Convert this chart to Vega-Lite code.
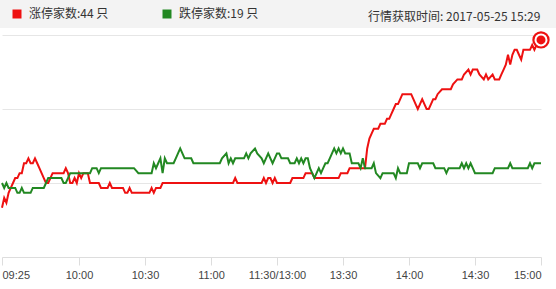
{
  "$schema": "https://vega.github.io/schema/vega-lite/v6.json",
  "width": 539,
  "height": 222,
  "autosize": {"type": "none"},
  "padding": {"left": 2, "top": 35, "right": 15, "bottom": 32},
  "background": "white",
  "config": {"view": {"stroke": null}, "font": "Liberation Sans"},
  "title": {
    "text": "行情获取时间: 2017-05-25 15:29",
    "anchor": "start",
    "frame": "group",
    "dx": 366,
    "offset": 0,
    "dy": 30,
    "baseline": "middle",
    "font": "Noto Sans CJK SC",
    "fontSize": 12,
    "fontWeight": "normal",
    "color": "#333333"
  },
  "datasets": {
    "series": [
      {"t": 0, "n": 10, "s": "涨停家数:44 只"},
      {"t": 1, "n": 12, "s": "涨停家数:44 只"},
      {"t": 2, "n": 11, "s": "涨停家数:44 只"},
      {"t": 3, "n": 13, "s": "涨停家数:44 只"},
      {"t": 4, "n": 14, "s": "涨停家数:44 只"},
      {"t": 5, "n": 15, "s": "涨停家数:44 只"},
      {"t": 6, "n": 16, "s": "涨停家数:44 只"},
      {"t": 7, "n": 16, "s": "涨停家数:44 只"},
      {"t": 8, "n": 17, "s": "涨停家数:44 只"},
      {"t": 9, "n": 17, "s": "涨停家数:44 只"},
      {"t": 10, "n": 19, "s": "涨停家数:44 只"},
      {"t": 11, "n": 19, "s": "涨停家数:44 只"},
      {"t": 12, "n": 20, "s": "涨停家数:44 只"},
      {"t": 13, "n": 19, "s": "涨停家数:44 只"},
      {"t": 14, "n": 19, "s": "涨停家数:44 只"},
      {"t": 15, "n": 20, "s": "涨停家数:44 只"},
      {"t": 16, "n": 19, "s": "涨停家数:44 只"},
      {"t": 17, "n": 18, "s": "涨停家数:44 只"},
      {"t": 18, "n": 17, "s": "涨停家数:44 只"},
      {"t": 19, "n": 16, "s": "涨停家数:44 只"},
      {"t": 20, "n": 15, "s": "涨停家数:44 只"},
      {"t": 21, "n": 15, "s": "涨停家数:44 只"},
      {"t": 22, "n": 16, "s": "涨停家数:44 只"},
      {"t": 23, "n": 17, "s": "涨停家数:44 只"},
      {"t": 28, "n": 17, "s": "涨停家数:44 只"},
      {"t": 29, "n": 18, "s": "涨停家数:44 只"},
      {"t": 30, "n": 17, "s": "涨停家数:44 只"},
      {"t": 31, "n": 15, "s": "涨停家数:44 只"},
      {"t": 32, "n": 15, "s": "涨停家数:44 只"},
      {"t": 33, "n": 16, "s": "涨停家数:44 只"},
      {"t": 34, "n": 15, "s": "涨停家数:44 只"},
      {"t": 35, "n": 17, "s": "涨停家数:44 只"},
      {"t": 36, "n": 16, "s": "涨停家数:44 只"},
      {"t": 37, "n": 17, "s": "涨停家数:44 只"},
      {"t": 39, "n": 17, "s": "涨停家数:44 只"},
      {"t": 40, "n": 15, "s": "涨停家数:44 只"},
      {"t": 44, "n": 15, "s": "涨停家数:44 只"},
      {"t": 45, "n": 14, "s": "涨停家数:44 只"},
      {"t": 48, "n": 14, "s": "涨停家数:44 只"},
      {"t": 49, "n": 15, "s": "涨停家数:44 只"},
      {"t": 50, "n": 14, "s": "涨停家数:44 只"},
      {"t": 55, "n": 14, "s": "涨停家数:44 只"},
      {"t": 56, "n": 13, "s": "涨停家数:44 只"},
      {"t": 57, "n": 13, "s": "涨停家数:44 只"},
      {"t": 58, "n": 14, "s": "涨停家数:44 只"},
      {"t": 59, "n": 13, "s": "涨停家数:44 只"},
      {"t": 67, "n": 13, "s": "涨停家数:44 只"},
      {"t": 68, "n": 14, "s": "涨停家数:44 只"},
      {"t": 69, "n": 13, "s": "涨停家数:44 只"},
      {"t": 70, "n": 14, "s": "涨停家数:44 只"},
      {"t": 72, "n": 14, "s": "涨停家数:44 只"},
      {"t": 73, "n": 15, "s": "涨停家数:44 只"},
      {"t": 105, "n": 15, "s": "涨停家数:44 只"},
      {"t": 106, "n": 16, "s": "涨停家数:44 只"},
      {"t": 107, "n": 15, "s": "涨停家数:44 只"},
      {"t": 118, "n": 15, "s": "涨停家数:44 只"},
      {"t": 119, "n": 16, "s": "涨停家数:44 只"},
      {"t": 120, "n": 15, "s": "涨停家数:44 只"},
      {"t": 121, "n": 16, "s": "涨停家数:44 只"},
      {"t": 122, "n": 16, "s": "涨停家数:44 只"},
      {"t": 123, "n": 15, "s": "涨停家数:44 只"},
      {"t": 124, "n": 16, "s": "涨停家数:44 只"},
      {"t": 125, "n": 15, "s": "涨停家数:44 只"},
      {"t": 131, "n": 15, "s": "涨停家数:44 只"},
      {"t": 132, "n": 16, "s": "涨停家数:44 只"},
      {"t": 137, "n": 16, "s": "涨停家数:44 只"},
      {"t": 138, "n": 17, "s": "涨停家数:44 只"},
      {"t": 141, "n": 17, "s": "涨停家数:44 只"},
      {"t": 142, "n": 16, "s": "涨停家数:44 只"},
      {"t": 153, "n": 16, "s": "涨停家数:44 只"},
      {"t": 154, "n": 17, "s": "涨停家数:44 只"},
      {"t": 157, "n": 17, "s": "涨停家数:44 只"},
      {"t": 158, "n": 18, "s": "涨停家数:44 只"},
      {"t": 165, "n": 18, "s": "涨停家数:44 只"},
      {"t": 166, "n": 22, "s": "涨停家数:44 只"},
      {"t": 167, "n": 24, "s": "涨停家数:44 只"},
      {"t": 168, "n": 25, "s": "涨停家数:44 只"},
      {"t": 169, "n": 26, "s": "涨停家数:44 只"},
      {"t": 171, "n": 26, "s": "涨停家数:44 只"},
      {"t": 172, "n": 27, "s": "涨停家数:44 只"},
      {"t": 174, "n": 27, "s": "涨停家数:44 只"},
      {"t": 175, "n": 28, "s": "涨停家数:44 只"},
      {"t": 176, "n": 28, "s": "涨停家数:44 只"},
      {"t": 177, "n": 29, "s": "涨停家数:44 只"},
      {"t": 178, "n": 30, "s": "涨停家数:44 只"},
      {"t": 179, "n": 31, "s": "涨停家数:44 只"},
      {"t": 180, "n": 31, "s": "涨停家数:44 只"},
      {"t": 181, "n": 32, "s": "涨停家数:44 只"},
      {"t": 182, "n": 33, "s": "涨停家数:44 只"},
      {"t": 186, "n": 33, "s": "涨停家数:44 只"},
      {"t": 187, "n": 32, "s": "涨停家数:44 只"},
      {"t": 188, "n": 31, "s": "涨停家数:44 只"},
      {"t": 189, "n": 30, "s": "涨停家数:44 只"},
      {"t": 190, "n": 31, "s": "涨停家数:44 只"},
      {"t": 191, "n": 32, "s": "涨停家数:44 只"},
      {"t": 192, "n": 31, "s": "涨停家数:44 只"},
      {"t": 193, "n": 30, "s": "涨停家数:44 只"},
      {"t": 194, "n": 30, "s": "涨停家数:44 只"},
      {"t": 195, "n": 31, "s": "涨停家数:44 只"},
      {"t": 196, "n": 32, "s": "涨停家数:44 只"},
      {"t": 197, "n": 32, "s": "涨停家数:44 只"},
      {"t": 198, "n": 33, "s": "涨停家数:44 只"},
      {"t": 200, "n": 34, "s": "涨停家数:44 只"},
      {"t": 204, "n": 34, "s": "涨停家数:44 只"},
      {"t": 205, "n": 35, "s": "涨停家数:44 只"},
      {"t": 207, "n": 36, "s": "涨停家数:44 只"},
      {"t": 209, "n": 36, "s": "涨停家数:44 只"},
      {"t": 210, "n": 37, "s": "涨停家数:44 只"},
      {"t": 212, "n": 38, "s": "涨停家数:44 只"},
      {"t": 213, "n": 37, "s": "涨停家数:44 只"},
      {"t": 214, "n": 38, "s": "涨停家数:44 只"},
      {"t": 216, "n": 38, "s": "涨停家数:44 只"},
      {"t": 217, "n": 37, "s": "涨停家数:44 只"},
      {"t": 219, "n": 36, "s": "涨停家数:44 只"},
      {"t": 220, "n": 37, "s": "涨停家数:44 只"},
      {"t": 221, "n": 36, "s": "涨停家数:44 只"},
      {"t": 223, "n": 37, "s": "涨停家数:44 只"},
      {"t": 224, "n": 36, "s": "涨停家数:44 只"},
      {"t": 226, "n": 36, "s": "涨停家数:44 只"},
      {"t": 227, "n": 37, "s": "涨停家数:44 只"},
      {"t": 228, "n": 38, "s": "涨停家数:44 只"},
      {"t": 229, "n": 39, "s": "涨停家数:44 只"},
      {"t": 230, "n": 41, "s": "涨停家数:44 只"},
      {"t": 231, "n": 39, "s": "涨停家数:44 只"},
      {"t": 232, "n": 41, "s": "涨停家数:44 只"},
      {"t": 233, "n": 42, "s": "涨停家数:44 只"},
      {"t": 234, "n": 42, "s": "涨停家数:44 只"},
      {"t": 235, "n": 41, "s": "涨停家数:44 只"},
      {"t": 236, "n": 40, "s": "涨停家数:44 只"},
      {"t": 237, "n": 42, "s": "涨停家数:44 只"},
      {"t": 240, "n": 42, "s": "涨停家数:44 只"},
      {"t": 241, "n": 43, "s": "涨停家数:44 只"},
      {"t": 242, "n": 42, "s": "涨停家数:44 只"},
      {"t": 243, "n": 43, "s": "涨停家数:44 只"},
      {"t": 244, "n": 43, "s": "涨停家数:44 只"},
      {"t": 245, "n": 44, "s": "涨停家数:44 只"},
      {"t": 0, "n": 15, "s": "跌停家数:19 只"},
      {"t": 1, "n": 14, "s": "跌停家数:19 只"},
      {"t": 2, "n": 15, "s": "跌停家数:19 只"},
      {"t": 3, "n": 14, "s": "跌停家数:19 只"},
      {"t": 6, "n": 14, "s": "跌停家数:19 只"},
      {"t": 7, "n": 13, "s": "跌停家数:19 只"},
      {"t": 8, "n": 13, "s": "跌停家数:19 只"},
      {"t": 9, "n": 14, "s": "跌停家数:19 只"},
      {"t": 10, "n": 13, "s": "跌停家数:19 只"},
      {"t": 13, "n": 13, "s": "跌停家数:19 只"},
      {"t": 14, "n": 14, "s": "跌停家数:19 只"},
      {"t": 19, "n": 14, "s": "跌停家数:19 只"},
      {"t": 20, "n": 15, "s": "跌停家数:19 只"},
      {"t": 21, "n": 16, "s": "跌停家数:19 只"},
      {"t": 27, "n": 16, "s": "跌停家数:19 只"},
      {"t": 28, "n": 15, "s": "跌停家数:19 只"},
      {"t": 29, "n": 15, "s": "跌停家数:19 只"},
      {"t": 30, "n": 16, "s": "跌停家数:19 只"},
      {"t": 31, "n": 17, "s": "跌停家数:19 只"},
      {"t": 40, "n": 17, "s": "跌停家数:19 只"},
      {"t": 41, "n": 18, "s": "跌停家数:19 只"},
      {"t": 43, "n": 18, "s": "跌停家数:19 只"},
      {"t": 44, "n": 17, "s": "跌停家数:19 只"},
      {"t": 45, "n": 18, "s": "跌停家数:19 只"},
      {"t": 60, "n": 18, "s": "跌停家数:19 只"},
      {"t": 62, "n": 17, "s": "跌停家数:19 只"},
      {"t": 68, "n": 17, "s": "跌停家数:19 只"},
      {"t": 69, "n": 19, "s": "跌停家数:19 只"},
      {"t": 70, "n": 18, "s": "跌停家数:19 只"},
      {"t": 71, "n": 19, "s": "跌停家数:19 只"},
      {"t": 72, "n": 20, "s": "跌停家数:19 只"},
      {"t": 73, "n": 17, "s": "跌停家数:19 只"},
      {"t": 74, "n": 20, "s": "跌停家数:19 只"},
      {"t": 75, "n": 19, "s": "跌停家数:19 只"},
      {"t": 78, "n": 19, "s": "跌停家数:19 只"},
      {"t": 79, "n": 20, "s": "跌停家数:19 只"},
      {"t": 80, "n": 21, "s": "跌停家数:19 只"},
      {"t": 81, "n": 22, "s": "跌停家数:19 只"},
      {"t": 82, "n": 21, "s": "跌停家数:19 只"},
      {"t": 83, "n": 20, "s": "跌停家数:19 只"},
      {"t": 86, "n": 20, "s": "跌停家数:19 只"},
      {"t": 87, "n": 19, "s": "跌停家数:19 只"},
      {"t": 99, "n": 19, "s": "跌停家数:19 只"},
      {"t": 100, "n": 20, "s": "跌停家数:19 只"},
      {"t": 102, "n": 21, "s": "跌停家数:19 只"},
      {"t": 103, "n": 19, "s": "跌停家数:19 只"},
      {"t": 104, "n": 20, "s": "跌停家数:19 只"},
      {"t": 105, "n": 19, "s": "跌停家数:19 只"},
      {"t": 106, "n": 20, "s": "跌停家数:19 只"},
      {"t": 110, "n": 20, "s": "跌停家数:19 只"},
      {"t": 111, "n": 21, "s": "跌停家数:19 只"},
      {"t": 112, "n": 20, "s": "跌停家数:19 只"},
      {"t": 113, "n": 21, "s": "跌停家数:19 只"},
      {"t": 115, "n": 22, "s": "跌停家数:19 只"},
      {"t": 116, "n": 21, "s": "跌停家数:19 只"},
      {"t": 118, "n": 20, "s": "跌停家数:19 只"},
      {"t": 119, "n": 19, "s": "跌停家数:19 只"},
      {"t": 120, "n": 20, "s": "跌停家数:19 只"},
      {"t": 121, "n": 21, "s": "跌停家数:19 只"},
      {"t": 122, "n": 20, "s": "跌停家数:19 只"},
      {"t": 123, "n": 19, "s": "跌停家数:19 只"},
      {"t": 124, "n": 20, "s": "跌停家数:19 只"},
      {"t": 125, "n": 21, "s": "跌停家数:19 只"},
      {"t": 126, "n": 21, "s": "跌停家数:19 只"},
      {"t": 127, "n": 20, "s": "跌停家数:19 只"},
      {"t": 130, "n": 20, "s": "跌停家数:19 只"},
      {"t": 131, "n": 19, "s": "跌停家数:19 只"},
      {"t": 133, "n": 19, "s": "跌停家数:19 只"},
      {"t": 134, "n": 20, "s": "跌停家数:19 只"},
      {"t": 135, "n": 19, "s": "跌停家数:19 只"},
      {"t": 136, "n": 20, "s": "跌停家数:19 只"},
      {"t": 137, "n": 19, "s": "跌停家数:19 只"},
      {"t": 138, "n": 20, "s": "跌停家数:19 只"},
      {"t": 139, "n": 20, "s": "跌停家数:19 只"},
      {"t": 140, "n": 18, "s": "跌停家数:19 只"},
      {"t": 141, "n": 17, "s": "跌停家数:19 只"},
      {"t": 142, "n": 16, "s": "跌停家数:19 只"},
      {"t": 143, "n": 17, "s": "跌停家数:19 只"},
      {"t": 144, "n": 18, "s": "跌停家数:19 只"},
      {"t": 145, "n": 17, "s": "跌停家数:19 只"},
      {"t": 146, "n": 18, "s": "跌停家数:19 只"},
      {"t": 147, "n": 19, "s": "跌停家数:19 只"},
      {"t": 148, "n": 19, "s": "跌停家数:19 只"},
      {"t": 149, "n": 20, "s": "跌停家数:19 只"},
      {"t": 150, "n": 21, "s": "跌停家数:19 只"},
      {"t": 151, "n": 22, "s": "跌停家数:19 只"},
      {"t": 152, "n": 21, "s": "跌停家数:19 只"},
      {"t": 153, "n": 22, "s": "跌停家数:19 只"},
      {"t": 154, "n": 21, "s": "跌停家数:19 只"},
      {"t": 155, "n": 22, "s": "跌停家数:19 只"},
      {"t": 156, "n": 21, "s": "跌停家数:19 只"},
      {"t": 158, "n": 21, "s": "跌停家数:19 只"},
      {"t": 159, "n": 19, "s": "跌停家数:19 只"},
      {"t": 162, "n": 19, "s": "跌停家数:19 只"},
      {"t": 163, "n": 18, "s": "跌停家数:19 只"},
      {"t": 164, "n": 20, "s": "跌停家数:19 只"},
      {"t": 165, "n": 18, "s": "跌停家数:19 只"},
      {"t": 168, "n": 18, "s": "跌停家数:19 只"},
      {"t": 169, "n": 19, "s": "跌停家数:19 只"},
      {"t": 170, "n": 17, "s": "跌停家数:19 只"},
      {"t": 172, "n": 16, "s": "跌停家数:19 只"},
      {"t": 173, "n": 17, "s": "跌停家数:19 只"},
      {"t": 178, "n": 17, "s": "跌停家数:19 只"},
      {"t": 179, "n": 16, "s": "跌停家数:19 只"},
      {"t": 180, "n": 18, "s": "跌停家数:19 只"},
      {"t": 181, "n": 17, "s": "跌停家数:19 只"},
      {"t": 184, "n": 17, "s": "跌停家数:19 只"},
      {"t": 185, "n": 19, "s": "跌停家数:19 只"},
      {"t": 189, "n": 19, "s": "跌停家数:19 只"},
      {"t": 190, "n": 18, "s": "跌停家数:19 只"},
      {"t": 191, "n": 19, "s": "跌停家数:19 只"},
      {"t": 196, "n": 19, "s": "跌停家数:19 只"},
      {"t": 197, "n": 18, "s": "跌停家数:19 只"},
      {"t": 201, "n": 18, "s": "跌停家数:19 只"},
      {"t": 202, "n": 17, "s": "跌停家数:19 只"},
      {"t": 203, "n": 18, "s": "跌停家数:19 只"},
      {"t": 208, "n": 18, "s": "跌停家数:19 只"},
      {"t": 209, "n": 19, "s": "跌停家数:19 只"},
      {"t": 210, "n": 18, "s": "跌停家数:19 只"},
      {"t": 211, "n": 19, "s": "跌停家数:19 只"},
      {"t": 212, "n": 18, "s": "跌停家数:19 只"},
      {"t": 213, "n": 19, "s": "跌停家数:19 只"},
      {"t": 214, "n": 18, "s": "跌停家数:19 只"},
      {"t": 215, "n": 17, "s": "跌停家数:19 只"},
      {"t": 223, "n": 17, "s": "跌停家数:19 只"},
      {"t": 224, "n": 18, "s": "跌停家数:19 只"},
      {"t": 230, "n": 18, "s": "跌停家数:19 只"},
      {"t": 231, "n": 19, "s": "跌停家数:19 只"},
      {"t": 232, "n": 18, "s": "跌停家数:19 只"},
      {"t": 239, "n": 18, "s": "跌停家数:19 只"},
      {"t": 240, "n": 19, "s": "跌停家数:19 只"},
      {"t": 241, "n": 18, "s": "跌停家数:19 只"},
      {"t": 242, "n": 19, "s": "跌停家数:19 只"},
      {"t": 245, "n": 19, "s": "跌停家数:19 只"}
    ]
  },
  "layer": [
    {
      "data": {"values": [{"band": "header"}]},
      "mark": {"type": "rect", "color": "#f3f3f3", "clip": false},
      "encoding": {
        "x": {"datum": -1, "type": "quantitative", "scale": {"domain": [0, 245], "nice": false, "zero": false}},
        "x2": {"datum": 253},
        "y": {"datum": 46.4, "type": "quantitative", "scale": {"domain": [0, 45], "nice": false}},
        "y2": {"datum": 52.2}
      }
    },
    {
      "data": {"name": "series"},
      "mark": {"type": "line", "strokeWidth": 2, "interpolate": "linear"},
      "encoding": {
        "x": {
          "field": "t",
          "type": "quantitative",
          "scale": {"domain": [0, 245], "nice": false, "zero": false},
          "axis": {
            "values": [0, 35, 65, 95, 125, 155, 185, 215, 245],
            "labelExpr": "datum.value == 0 ? '09:25' : datum.value == 35 ? '10:00' : datum.value == 65 ? '10:30' : datum.value == 95 ? '11:00' : datum.value == 125 ? '11:30/13:00' : datum.value == 155 ? '13:30' : datum.value == 185 ? '14:00' : datum.value == 215 ? '14:30' : '15:00'",
            "title": null,
            "grid": false,
            "domainColor": "#dddddd",
            "tickColor": "#dddddd",
            "tickSize": 8,
            "labelPadding": 4,
            "labelFlush": true,
            "labelFont": "Liberation Sans",
            "labelFontSize": 11,
            "labelColor": "#444444"
          }
        },
        "y": {
          "field": "n",
          "type": "quantitative",
          "scale": {"domain": [0, 45], "nice": false},
          "axis": {
            "values": [15, 30, 45],
            "title": null,
            "labels": false,
            "ticks": false,
            "domain": false,
            "grid": true,
            "gridColor": "#e6e6e6",
            "gridWidth": 1
          }
        },
        "color": {
          "field": "s",
          "type": "nominal",
          "scale": {"domain": ["涨停家数:44 只", "跌停家数:19 只"], "range": ["#ee1111", "#228822"]},
          "legend": {
            "title": null,
            "orient": "none",
            "legendX": 9,
            "legendY": -27,
            "direction": "horizontal",
            "padding": 0,
            "symbolType": "square",
            "symbolSize": 81,
            "labelOffset": 6,
            "columnPadding": 52,
            "labelFont": "Noto Sans CJK SC",
            "labelFontSize": 12,
            "labelColor": "#333333",
            "labelLimit": 200,
            "encode": {
              "symbols": {
                "update": {
                  "fill": {"scale": "color", "field": "value"},
                  "strokeWidth": {"value": 0},
                  "shape": {"value": "square"}
                }
              }
            }
          }
        },
        "order": {"field": "t"}
      }
    },
    {
      "data": {"name": "series"},
      "transform": [{"filter": "datum.t == 245 && datum.n == 44"}],
      "mark": {"type": "point", "filled": true, "shape": "circle", "size": 300, "color": "#ee1111", "opacity": 1},
      "encoding": {
        "x": {"field": "t", "type": "quantitative"},
        "y": {"field": "n", "type": "quantitative"}
      }
    },
    {
      "data": {"name": "series"},
      "transform": [{"filter": "datum.t == 245 && datum.n == 44"}],
      "mark": {"type": "point", "filled": true, "shape": "circle", "size": 121, "fill": "#ee1111", "stroke": "white", "strokeWidth": 2, "opacity": 1},
      "encoding": {
        "x": {"field": "t", "type": "quantitative"},
        "y": {"field": "n", "type": "quantitative"}
      }
    }
  ]
}
